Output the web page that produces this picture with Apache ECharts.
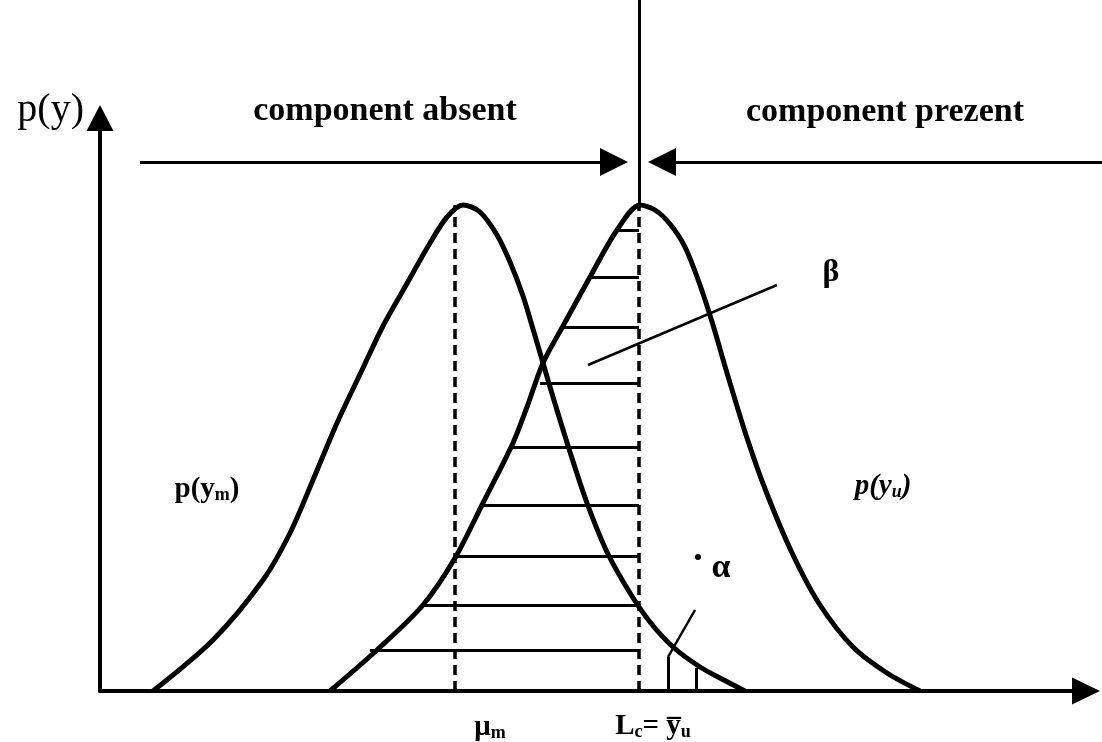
<!DOCTYPE html>
<html>
<head>
<meta charset="utf-8">
<title>component absent / present</title>
<script src="https://cdn.jsdelivr.net/npm/echarts@6/dist/echarts.min.js"></script>
<style>
  html, body { margin: 0; padding: 0; background: #fff; }
  #chart { width: 1102px; height: 742px; }
</style>
</head>
<body>
<div id="chart"></div>
<script>
// curve p(ym) - component absent
const curveAbsent = [
  [53, 0], [113, 51], [163, 111], [190, 158], [213, 211], [237, 268], [263, 323],
  [283, 365], [305, 404], [330, 448], [347, 474], [363, 486], [380, 479], [397, 456],
  [410, 429], [423, 395], [433, 362], [443, 328], [453, 294], [470, 239], [487, 188],
  [507, 139], [530, 98], [550, 69], [573, 44], [600, 24], [620, 13], [645, 0]
]
// curve p(yu) - component present
const curvePresent = [
  [230, 0], [277, 41], [323, 86], [355, 133], [383, 188], [413, 248], [427, 284],
  [443, 328], [463, 365], [490, 414], [517, 461], [540, 486], [555, 481], [570, 467],
  [585, 444], [600, 406], [613, 366], [627, 318], [647, 253], [667, 197], [693, 136],
  [720, 86], [753, 44], [787, 18], [820, 0]
]
const muM = 355 // mean of p(ym)
const lc = 539 // L_c
const peak = 486
const topY = 691
// beta hatching: heights and where each line starts on p(yu)
const hatchY = [461, 414, 364, 308, 244, 186, 135, 86, 41]
const hatchStart = [517, 490, 463, 440, 413, 380, 355, 323, 270]
// alpha hatching (short verticals)
const alphaX = [568, 596]
const alphaTop = [34, 23]
const arrowY = 529

const serif = "'Liberation Serif', 'DejaVu Serif', serif"
const rich = {
  s: { fontSize: 18, fontFamily: serif, fontWeight: 'bold', verticalAlign: 'bottom', color: '#000' }
}

const notes = [
  { at: [285, 580], text: 'component absent', size: 34 },
  { at: [785, 579], text: 'component prezent', size: 34 },
  { at: [107, 201], text: 'p(y{s|m})', size: 29 },
  { at: [783, 204], text: 'p(y{s|u})', size: 29, italic: true },
  { at: [731, 418], text: 'β', size: 32 },
  { at: [621, 123], text: 'α', size: 34 },
  { at: [390, -37], text: 'μ{s|m}', size: 29 },
  { at: [553, -36], text: 'L{s|c}= y\u0305{s|u}', size: 29 }
]

const segs = (list, style) => list.map(c => ({ coords: c, lineStyle: style }))

const hatch = hatchY.map((y, i) => [[hatchStart[i], y], [lc, y]])
  .concat(alphaX.map((x, i) => [[x, 0], [x, alphaTop[i]]]))

const chart = echarts.init(document.getElementById('chart'))
chart.setOption({
  animation: false,
  backgroundColor: '#fff',
  grid: { left: 100, top: 118, right: 16, bottom: 51, containLabel: false, outerBoundsMode: 'none' },
  xAxis: {
    type: 'value',
    min: 0,
    max: 986,
    axisLine: { show: true, symbol: ['none', 'triangle'], symbolSize: [27, 28], lineStyle: { color: '#000', width: 4 } },
    axisTick: { show: false },
    axisLabel: { show: false },
    splitLine: { show: false },
    name: 'y',
    nameLocation: 'end',
    nameGap: 9,
    nameTextStyle: { fontFamily: serif, fontWeight: 'bold', fontSize: 29, color: '#000', align: 'center', verticalAlign: 'top', padding: [50, 0, 0, 0] }
  },
  yAxis: {
    type: 'value',
    min: 0,
    max: 573,
    axisLine: { show: true, symbol: ['none', 'triangle'], symbolSize: [27, 26], lineStyle: { color: '#000', width: 4 } },
    axisTick: { show: false },
    axisLabel: { show: false },
    splitLine: { show: false },
    name: 'p(y)',
    nameLocation: 'end',
    nameGap: 8,
    nameTextStyle: { fontFamily: serif, fontSize: 40, color: '#000', align: 'right', verticalAlign: 'middle', padding: [0, 16, 0, 0] }
  },
  series: [
    {
      type: 'lines',
      coordinateSystem: 'cartesian2d',
      clip: false,
      silent: true,
      data: segs(hatch, { color: '#000', width: 3, opacity: 1 })
        .concat(segs([[[488, 326], [677, 406]], [[595, 81], [568, 34]]], { color: '#000', width: 2.5, opacity: 1 }))
        .concat(segs([[[lc, peak], [lc, topY]]], { color: '#000', width: 3, opacity: 1 }))
        .concat(segs([[[muM, 0], [muM, peak]], [[lc, 0], [lc, peak]]], { color: '#000', width: 3.5, type: [10, 6], opacity: 1 }))
    },
    {
      type: 'lines',
      coordinateSystem: 'cartesian2d',
      clip: false,
      silent: true,
      symbol: ['none', 'triangle'],
      symbolSize: 28,
      data: segs([[[40, arrowY], [514, arrowY]], [[1002, arrowY], [562, arrowY]]], { color: '#000', width: 3, opacity: 1 })
    },
    {
      name: 'p(ym)',
      type: 'line',
      data: curveAbsent,
      smooth: 0.3,
      showSymbol: false,
      clip: false,
      lineStyle: { color: '#000', width: 5 },
      z: 5
    },
    {
      name: 'p(yu)',
      type: 'line',
      data: curvePresent,
      smooth: 0.3,
      showSymbol: false,
      clip: false,
      lineStyle: { color: '#000', width: 5 },
      z: 5
    },
    {
      type: 'scatter',
      clip: false,
      silent: true,
      symbolSize: 6,
      itemStyle: { color: '#000', opacity: 1 },
      data: [[598, 134]]
    },
    {
      type: 'scatter',
      clip: false,
      silent: true,
      symbolSize: 0,
      itemStyle: { color: '#000', opacity: 1 },
      data: notes.map(n => ({
        value: n.at,
        label: {
          show: true,
          position: 'inside',
          formatter: n.text,
          fontFamily: serif,
          fontWeight: 'bold',
          fontStyle: n.italic ? 'italic' : 'normal',
          fontSize: n.size,
          color: '#000',
          textBorderWidth: 0,
          opacity: 1,
          rich: rich
        }
      }))
    }
  ]
})
</script>
</body>
</html>
